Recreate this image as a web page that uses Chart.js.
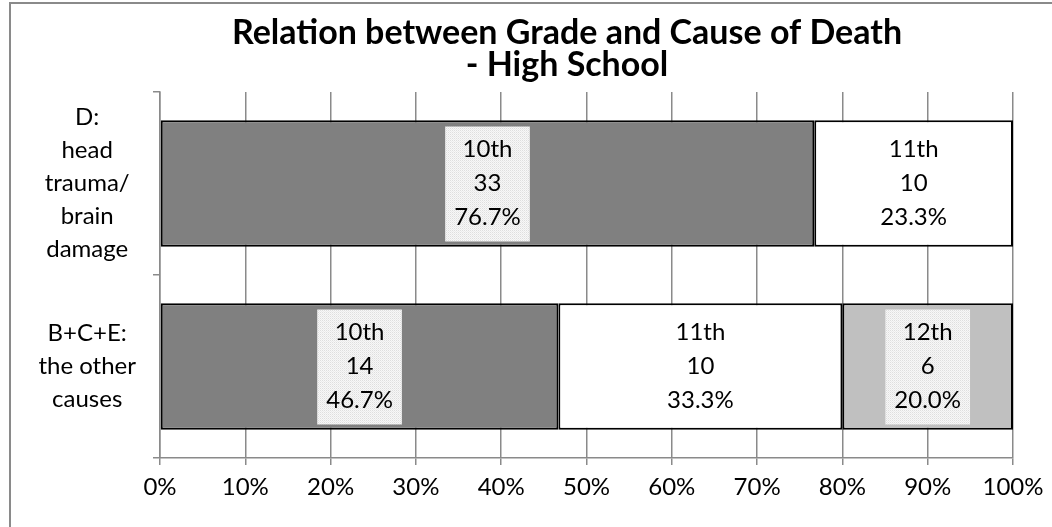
<!DOCTYPE html>
<html>
<head>
<meta charset="utf-8">
<script src="https://cdn.jsdelivr.net/npm/chart.js@4"></script>
<style>
  html, body { margin: 0; padding: 0; background: #fff; }
  #wrap { width: 1052px; height: 527px; }
</style>
</head>
<body>
<div id="wrap"><canvas id="chart" width="1052" height="527"></canvas></div>
<script>
const causes = [
  ["D:", "head", "trauma/", "brain", "damage"],
  ["B+C+E:", "the other", "causes"]
]
const grades = ["10th", "11th", "12th"]
const counts10 = [33, 14]
const counts11 = [10, 10]
const counts12 = [null, 6]
const pct10 = [76.7, 46.7]
const pct11 = [23.3, 33.3]
const pct12 = [null, 20.0]
const xTicks = [0, 10, 20, 30, 40, 50, 60, 70, 80, 90, 100]
const titleLines = ["Relation between Grade and Cause of Death", "- High School"]

const FONT = "Lato, 'Open Sans', sans-serif"

// fine dotted fill like the Excel label background
function stipple() {
  const c = document.createElement("canvas")
  c.width = 2
  c.height = 2
  const g = c.getContext("2d")
  g.fillStyle = "#f7f7f7"
  g.fillRect(0, 0, 2, 2)
  g.fillStyle = "#dedede"
  g.fillRect(0, 0, 1, 1)
  g.fillStyle = "#ebebeb"
  g.fillRect(1, 1, 1, 1)
  return g.createPattern(c, "repeat")
}

// outer chart frame + title (Excel centres it on the whole frame, not the plot)
const frame = {
  id: "frame",
  beforeDraw(chart) {
    const ctx = chart.ctx
    ctx.save()
    ctx.strokeStyle = "#8a8a8a"
    ctx.lineWidth = 2
    ctx.strokeRect(10, 3, chart.width, chart.height)
    ctx.fillStyle = "#000"
    ctx.font = "bold 34px " + FONT
    ctx.textAlign = "center"
    ctx.textBaseline = "middle"
    titleLines.forEach((t, k) => ctx.fillText(t, 567, 33 + k * 32))
    ctx.restore()
  }
}

const segLabels = {
  id: "segLabels",
  afterDatasetsDraw(chart) {
    const ctx = chart.ctx
    const pat = stipple()
    ctx.save()
    ctx.font = "24px " + FONT
    ctx.textAlign = "center"
    ctx.textBaseline = "middle"
    chart.data.datasets.forEach((ds, di) => {
      const meta = chart.getDatasetMeta(di)
      meta.data.forEach((bar, i) => {
        const v = ds.data[i]
        if (v == null) return
        const cx = (bar.x + bar.base) / 2
        const cy = bar.y
        const lines = [grades[di], String(ds.counts[i]), v.toFixed(1) + "%"]
        if (ds.labelBox) {
          const w = Math.max(...lines.map(l => ctx.measureText(l).width)) + 18
          ctx.fillStyle = pat
          ctx.fillRect(cx - w / 2, cy - 57, w, 115)
        }
        ctx.fillStyle = "#000"
        lines.forEach((l, k) => ctx.fillText(l, cx, cy + (k - 1) * 34))
      })
    })
    ctx.restore()
  }
}

const noPad = axis => {
  axis.paddingTop = 0
  axis.paddingBottom = 0
  axis.paddingLeft = 0
  axis.paddingRight = 0
}

const bar = (label, data, counts, color, labelBox) => ({
  label, data, counts, labelBox,
  backgroundColor: color,
  borderColor: "#000",
  borderWidth: 2,
  borderSkipped: false,
  barPercentage: 0.69,
  categoryPercentage: 1
})

new Chart(document.getElementById("chart"), {
  type: "bar",
  data: {
    labels: causes,
    datasets: [
      bar(grades[0], pct10, counts10, "#808080", true),
      bar(grades[1], pct11, counts11, "#ffffff", false),
      bar(grades[2], pct12, counts12, "#c0c0c0", true)
    ]
  },
  options: {
    indexAxis: "y",
    responsive: false,
    animation: false,
    layout: { padding: { left: 0, right: 39, top: 92, bottom: 0 } },
    plugins: {
      legend: { display: false },
      tooltip: { enabled: false },
      title: { display: false }
    },
    scales: {
      x: {
        stacked: true,
        min: 0,
        max: 100,
        afterBuildTicks: axis => { axis.ticks = xTicks.map(value => ({ value })) },
        afterFit: axis => { axis.height = 69; noPad(axis) },
        ticks: {
          color: "#000",
          font: { family: FONT, size: 24 },
          padding: 8,
          callback: v => v + "%"
        },
        grid: { color: "#8a8a8a", lineWidth: 1.5, tickLength: 7 },
        border: { color: "#8a8a8a", width: 1.5 }
      },
      y: {
        stacked: true,
        afterFit: axis => { axis.width = 160; noPad(axis) },
        ticks: {
          color: "#000",
          font: { family: FONT, size: 24, lineHeight: 1.375 },
          crossAlign: "center",
          padding: 17
        },
        grid: { drawOnChartArea: false, color: "#8a8a8a", lineWidth: 1.5, tickLength: 7, offset: true },
        border: { color: "#8a8a8a", width: 1.5 }
      }
    }
  },
  plugins: [frame, segLabels]
})
</script>
</body>
</html>
